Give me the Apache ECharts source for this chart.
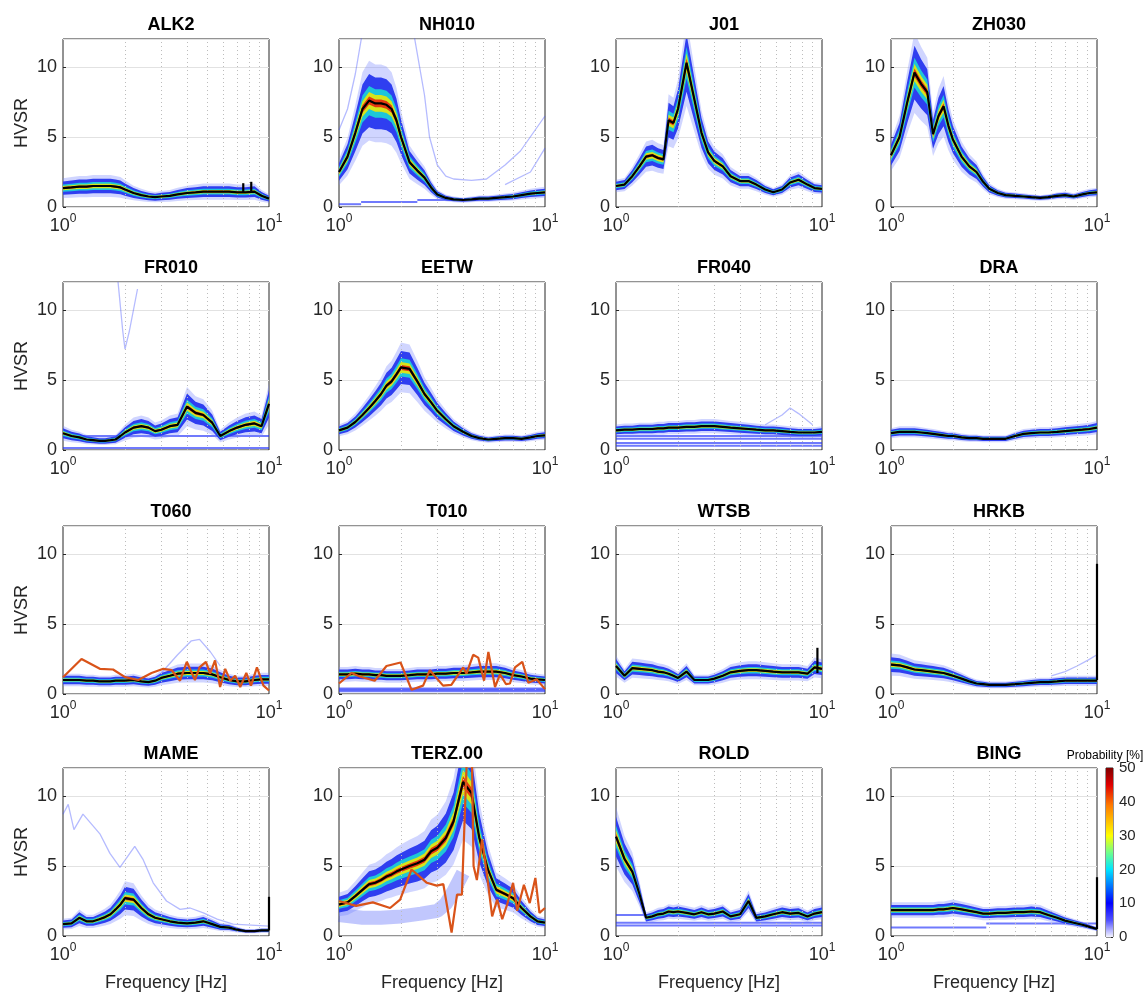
<!DOCTYPE html>
<html>
<head>
<meta charset="utf-8">
<title>HVSR probability</title>
<script src="https://cdn.jsdelivr.net/npm/echarts@6/dist/echarts.min.js"></script>
<style>
  html, body { margin: 0; padding: 0; background: #fff; }
  #chart { width: 1147px; height: 995px; }
</style>
</head>
<body>
<div id="chart"></div>
<script>
var freqs = [1, 1.1, 1.2, 1.3, 1.4, 1.5, 1.6, 1.7, 1.8, 1.9, 2, 2.2, 2.4, 2.6, 2.8, 3, 3.3, 3.6, 4, 4.4, 4.8, 5.3, 5.8, 6.4, 7, 7.7, 8.5, 9.2, 10];
var minorFreqs = [2, 3, 4, 5, 6, 7, 8, 9];
var probMin = 0, probMax = 50;

var stationNames = ['ALK2', 'NH010', 'J01', 'ZH030', 'FR010', 'EETW', 'FR040', 'DRA',
                    'T060', 'T010', 'WTSB', 'HRKB', 'MAME', 'TERZ.00', 'ROLD', 'BING'];

// median HVSR curves (black lines)
var alk2  = [1.35,1.4,1.45,1.45,1.5,1.5,1.5,1.5,1.45,1.4,1.25,1.0,0.85,0.75,0.7,0.75,0.8,0.9,1.0,1.05,1.1,1.1,1.1,1.1,1.05,1.05,1.1,0.8,0.6];
var nh010 = [2.5,3.6,5.3,7.0,7.6,7.4,7.4,7.3,7.0,6.2,5.0,3.2,2.6,2.1,1.4,0.9,0.65,0.55,0.5,0.55,0.6,0.6,0.65,0.7,0.75,0.85,0.95,1.0,1.05];
var j01   = [1.5,1.6,2.2,2.9,3.6,3.7,3.5,3.4,6.2,6.0,7.0,10.3,7.7,5.3,3.9,3.3,2.9,2.2,1.85,1.85,1.6,1.25,1.05,1.25,1.75,1.95,1.6,1.35,1.3];
var zh030 = [3.7,5.0,7.5,9.6,8.8,8.2,5.2,6.5,7.2,5.8,4.8,3.6,2.9,2.5,1.8,1.3,1.0,0.85,0.8,0.75,0.7,0.65,0.7,0.8,0.85,0.75,0.9,1.0,1.05];
var fr010 = [1.2,1.0,0.9,0.75,0.7,0.65,0.65,0.7,0.75,1.0,1.25,1.6,1.7,1.6,1.35,1.45,1.7,1.8,3.1,2.65,2.5,1.95,1.0,1.35,1.6,1.8,1.9,1.7,3.3];
var eetw  = [1.4,1.6,2.0,2.5,3.0,3.5,4.0,4.6,4.9,5.4,5.9,5.8,4.9,4.0,3.4,2.8,2.2,1.7,1.3,1.0,0.85,0.75,0.8,0.85,0.85,0.8,0.9,1.0,1.05];
var fr040 = [1.4,1.45,1.45,1.5,1.5,1.5,1.55,1.55,1.6,1.6,1.6,1.65,1.65,1.7,1.7,1.7,1.65,1.6,1.55,1.5,1.45,1.4,1.4,1.35,1.3,1.25,1.25,1.25,1.3];
var dra   = [1.2,1.3,1.3,1.3,1.25,1.2,1.15,1.1,1.05,1.0,1.0,0.9,0.85,0.85,0.8,0.8,0.8,0.8,1.0,1.15,1.2,1.25,1.25,1.3,1.35,1.4,1.45,1.5,1.6];
var t060  = [1.0,1.0,1.0,0.95,0.95,0.9,0.9,0.9,0.95,0.95,0.95,1.0,0.9,0.85,0.95,1.15,1.3,1.45,1.5,1.5,1.5,1.4,1.2,1.0,0.9,0.9,1.0,1.05,1.05];
var t010  = [1.4,1.4,1.45,1.4,1.4,1.35,1.35,1.3,1.3,1.3,1.3,1.35,1.4,1.4,1.4,1.45,1.45,1.5,1.5,1.55,1.6,1.6,1.6,1.5,1.35,1.25,1.1,1.05,1.0];
var wtsb  = [2.0,1.3,1.85,1.8,1.75,1.7,1.6,1.55,1.45,1.3,1.15,1.6,1.0,1.0,1.0,1.1,1.3,1.55,1.65,1.7,1.7,1.65,1.6,1.55,1.55,1.55,1.45,1.9,1.8];
var hrkb  = [2.1,2.05,1.9,1.75,1.7,1.65,1.6,1.55,1.5,1.4,1.3,1.1,0.9,0.75,0.7,0.65,0.65,0.65,0.7,0.75,0.8,0.85,0.85,0.9,0.95,0.95,0.95,0.95,0.95];
var mame  = [0.85,0.9,1.3,1.05,1.05,1.2,1.35,1.55,1.9,2.25,2.7,2.6,2.0,1.55,1.3,1.2,1.05,0.95,0.9,0.95,1.05,0.85,0.65,0.6,0.45,0.35,0.35,0.4,0.4];
var terz  = [2.25,2.4,2.85,3.3,3.7,3.8,4.0,4.25,4.4,4.6,4.75,5.0,5.2,5.45,6.05,6.3,7.0,8.2,11.0,10.2,7.0,4.7,3.3,3.0,2.7,2.0,1.4,1.05,0.95];
var rold  = [7.1,5.5,4.6,3.0,1.3,1.4,1.55,1.6,1.75,1.7,1.75,1.65,1.55,1.7,1.55,1.6,1.75,1.4,1.55,2.5,1.3,1.4,1.55,1.7,1.6,1.65,1.4,1.6,1.7];
var bing  = [1.85,1.85,1.85,1.85,1.85,1.85,1.85,1.9,1.9,1.95,2.0,1.9,1.8,1.7,1.6,1.6,1.65,1.65,1.7,1.7,1.75,1.7,1.5,1.3,1.1,0.95,0.8,0.65,0.5];

var medians = [alk2, nh010, j01, zh030, fr010, eetw, fr040, dra, t060, t010, wtsb, hrkb, mame, terz, rold, bing];
// relative half width of the probability cloud around the median
var spreads = [0.35, 0.25, 0.2, 0.2, 0.3, 0.2, 0.2, 0.2, 0.3, 0.25, 0.25, 0.25, 0.3, 0.25, 0.2, 0.2];

// orange reference curves
var t060Orange = [[1,1.2],[1.23,2.5],[1.51,1.8],[1.75,1.75],[2.0,1.2],[2.32,1.0],[2.69,1.5],[3.07,1.8],[3.37,1.7],[3.7,0.95],[3.99,2.3],[4.37,1.0],[4.6,1.9],[4.94,2.3],[5.18,1.45],[5.47,2.4],[5.79,0.5],[6.13,1.8],[6.48,0.95],[6.85,1.3],[7.25,0.5],[7.76,1.5],[8.18,0.6],[8.74,1.9],[9.4,0.6],[10,0.25]];
var t010Orange = [[1,0.75],[1.15,1.5],[1.26,1.25],[1.49,0.95],[1.7,2.0],[1.99,2.25],[2.25,0.3],[2.56,0.6],[2.76,1.7],[3.2,0.6],[3.51,0.65],[4.01,1.9],[4.16,1.45],[4.48,2.8],[4.74,2.6],[5.06,0.95],[5.31,3.0],[5.72,0.5],[6.05,1.4],[6.47,0.7],[6.76,0.75],[7.15,1.9],[7.76,2.3],[8.3,0.8],[9.1,1.05],[10,0.35]];
var terzOrange = [[1,2.5],[1.21,2.15],[1.46,2.4],[1.77,2.0],[1.98,2.6],[2.25,4.75],[2.67,3.8],[2.98,3.6],[3.21,3.7],[3.52,0.25],[3.74,2.95],[3.95,2.95],[4.17,12.5],[4.42,12.5],[4.5,5.0],[4.67,4.0],[4.95,6.9],[5.24,4.25],[5.54,1.4],[5.86,2.6],[6.2,1.2],[6.55,2.25],[7.0,3.8],[7.33,1.8],[7.9,3.65],[8.43,2.35],[8.98,4.15],[9.4,1.65],[10,2.0]];

// faint outlier windows
var nh010OutA = [[1,5.5],[1.1,7],[1.2,9.5],[1.3,12.5]];
var nh010OutB = [[2.3,12.5],[2.6,8.0],[2.75,5],[3.0,3],[3.3,2.2],[3.6,2.0],[4.4,1.9],[5.2,2.0],[6.4,3.0],[7.6,4.0],[10,6.5]];
var nh010OutC = [[6.4,1.6],[8.5,2.5],[10,4.2]];
var fr010Out  = [[1.85,12],[1.95,8.5],[2.0,7.2],[2.1,8.5],[2.3,11.5]];
var fr040Out  = [[5.3,1.8],[6.4,2.5],[7,3.0],[7.7,2.6],[9,1.8]];
var t060Out   = [[3,1.5],[3.6,2.8],[4.2,3.8],[4.6,3.9],[5.2,3.0],[5.8,2.0]];
var hrkbOut   = [[6,1.3],[7,1.6],[8,2.0],[9,2.4],[10,2.8]];
var mameOut   = [[1,8.7],[1.06,9.4],[1.13,7.6],[1.25,8.7],[1.51,7.3],[1.69,5.9],[1.89,4.9],[2.11,5.9],[2.23,6.4],[2.45,5.45],[2.74,3.8],[3.18,2.5],[3.7,1.9],[4.14,2.0],[4.8,1.65],[5.6,1.2],[6.7,0.85],[10,0.7]];
var terzLow   = [[1,1.5],[1.3,1.3],[1.6,1.3],[2,1.4],[2.5,1.6],[3,1.8],[3.3,2.3],[3.6,3.2],[4,4.5]];
var outliers = [[], [nh010OutA, nh010OutB, nh010OutC], [], [], [fr010Out], [], [fr040Out], [],
                [t060Out], [], [], [hrkbOut], [mameOut], [], [], []];
var clouds = [[], [], [], [], [], [], [], [], [], [], [], [], [], [terzLow], [], []];

// horizontal streaks [hvsr, fStart, fEnd]
var streaks = [
  [], [[0.2,1,1.28],[0.35,1.28,2.4],[0.5,2.4,3.5]], [], [],
  [[0.15,1,10],[1.0,1,10]], [], [[1.0,1,10],[0.8,1,10],[0.5,1,10],[0.3,1,10]], [],
  [], [[0.2,1,10],[0.3,1,10],[0.4,1,10]], [], [],
  [], [], [[1.5,1,1.9],[0.75,1,10],[0.95,1,10]], [[0.6,1,2.9],[0.9,2.9,10]]
];
// vertical spikes of the median [f, from, to]
var spikes = [
  [[7.5,1.0,1.7],[8.2,1.0,1.8]], [], [], [],
  [], [], [], [],
  [], [], [[9.5,1.5,3.3]], [[10,1.0,9.3]],
  [[10,0.4,2.8]], [], [], [[10,0.5,4.2]]
];

var colLeft = [63, 339, 616, 891], rowTop = [39, 282, 526, 768];
var plotW = 206, plotH = 168;
var bandLevels = [
  {k: 1.5, color: 'rgba(120,135,255,0.35)'},
  {k: 1.0, color: '#2f3ef0'},
  {k: 0.55, color: '#1ec6d8'},
  {k: 0.32, color: '#d6e51b'},
  {k: 0.15, color: '#e5380f'}
];

var chart = echarts.init(document.getElementById('chart'));
var grids = [], xAxes = [], yAxes = [], titles = [], series = [];
var tickColor = '#262626';

function bandRenderer(med, s) {
  return function (params, api) {
    var lv = bandLevels[api.value(2)];
    var pts = [];
    for (var j = 0; j < freqs.length; j++) pts.push(api.coord([freqs[j], med[j] * (1 + lv.k * s)]));
    for (var j2 = freqs.length - 1; j2 >= 0; j2--) pts.push(api.coord([freqs[j2], med[j2] * (1 - lv.k * s)]));
    return {type: 'polygon', shape: {points: pts}, style: {fill: lv.color}};
  };
}

stationNames.forEach(function (name, i) {
  var r = Math.floor(i / 4), c = i % 4;
  grids.push({left: colLeft[c], top: rowTop[r], width: plotW, height: plotH,
    show: true, borderColor: tickColor, borderWidth: 1, backgroundColor: '#fff'});
  xAxes.push({
    type: 'log', logBase: 10, min: 1, max: 10, gridIndex: i,
    name: r === 3 ? 'Frequency [Hz]' : '', nameLocation: 'middle', nameGap: 38,
    nameTextStyle: {fontSize: 18, color: tickColor},
    axisLine: {show: false}, axisTick: {show: false}, splitLine: {show: false},
    axisLabel: {
      margin: 6, color: tickColor,
      formatter: function (v) { return '{b|10}{s|' + Math.round(Math.log10(v)) + '}'; },
      rich: {b: {fontSize: 18, lineHeight: 22, verticalAlign: 'bottom'},
             s: {fontSize: 12, verticalAlign: 'top'}}
    }
  });
  yAxes.push({
    type: 'value', min: 0, max: 12, interval: 5, gridIndex: i,
    name: c === 0 ? 'HVSR' : '', nameLocation: 'middle', nameGap: 32, nameRotate: 90,
    nameTextStyle: {fontSize: 18, color: tickColor},
    axisLine: {show: false},
    axisTick: {show: true, inside: true, length: 3, lineStyle: {color: tickColor}},
    axisLabel: {fontSize: 18, color: tickColor, margin: 6, showMaxLabel: false},
    splitLine: {show: true, lineStyle: {color: '#e2e2e2', width: 1}}
  });
  titles.push({text: name, left: colLeft[c] + plotW / 2, top: rowTop[r] - 28, textAlign: 'center',
    textStyle: {fontSize: 18, fontWeight: 'bold', color: '#000'}});

  // dotted minor grid lines
  series.push({type: 'line', xAxisIndex: i, yAxisIndex: i, data: [[1, 0]], symbol: 'none',
    lineStyle: {opacity: 0}, silent: true, z: 1,
    markLine: {silent: true, symbol: 'none', label: {show: false}, animation: false,
      lineStyle: {color: '#bcbcbc', type: [1, 3], width: 1},
      data: minorFreqs.map(function (f) { return {xAxis: f}; })}});

  streaks[i].forEach(function (s) {
    series.push({type: 'line', xAxisIndex: i, yAxisIndex: i, data: [[s[1], s[0]], [s[2], s[0]]],
      symbol: 'none', silent: true, z: 2, lineStyle: {color: 'rgba(35,50,250,0.65)', width: 2}});
  });
  outliers[i].forEach(function (o) {
    series.push({type: 'line', xAxisIndex: i, yAxisIndex: i, data: o, symbol: 'none', silent: true, z: 2,
      lineStyle: {color: 'rgba(70,85,255,0.4)', width: 1.3}});
  });
  clouds[i].forEach(function (o) {
    series.push({type: 'line', xAxisIndex: i, yAxisIndex: i, data: o, symbol: 'none', silent: true, z: 2,
      lineStyle: {color: 'rgba(50,70,250,0.3)', width: 14}});
  });

  // probability cloud: nested bands around the median
  series.push({type: 'custom', coordinateSystem: 'cartesian2d', xAxisIndex: i, yAxisIndex: i,
    clip: true, silent: true, z: 3,
    data: bandLevels.map(function (lv, l) { return [1, 0, l]; }),
    renderItem: bandRenderer(medians[i], spreads[i])});

  series.push({type: 'line', xAxisIndex: i, yAxisIndex: i, symbol: 'none', silent: true, z: 5,
    lineStyle: {color: '#000', width: 2.2},
    data: freqs.map(function (f, j) { return [f, medians[i][j]]; })});
  spikes[i].forEach(function (sp) {
    series.push({type: 'line', xAxisIndex: i, yAxisIndex: i, symbol: 'none', silent: true, z: 5,
      lineStyle: {color: '#000', width: 2.2}, data: [[sp[0], sp[1]], [sp[0], sp[2]]]});
  });
});

// orange reference curves
[[8, t060Orange], [9, t010Orange], [13, terzOrange]].forEach(function (p) {
  series.push({type: 'line', xAxisIndex: p[0], yAxisIndex: p[0], data: p[1], symbol: 'none', silent: true, z: 6,
    lineStyle: {color: '#d95319', width: 2.2}});
});

// colour bar
var cb = grids.length;
grids.push({left: 1106, top: 768, width: 7, height: 169, show: true, borderColor: tickColor, borderWidth: 1});
xAxes.push({type: 'category', gridIndex: cb, data: ['p'], show: false, boundaryGap: true});
yAxes.push({type: 'value', gridIndex: cb, min: probMin, max: probMax, interval: 10, position: 'right',
  axisLine: {show: false}, splitLine: {show: false},
  axisTick: {show: true, inside: true, length: 2, lineStyle: {color: tickColor}},
  axisLabel: {fontSize: 15, color: tickColor, margin: 6}});
series.push({type: 'bar', xAxisIndex: cb, yAxisIndex: cb, data: [probMax], barWidth: '100%', silent: true,
  itemStyle: {color: new echarts.graphic.LinearGradient(0, 0, 0, 1, [
    {offset: 0, color: '#7f0000'}, {offset: 0.1, color: '#e00000'}, {offset: 0.22, color: '#ff7a00'},
    {offset: 0.4, color: '#ffff00'}, {offset: 0.5, color: '#70ff8a'}, {offset: 0.6, color: '#00e5ff'},
    {offset: 0.7, color: '#0075ff'}, {offset: 0.8, color: '#0000ff'}, {offset: 0.9, color: '#5050ff'},
    {offset: 1, color: '#f4f4ff'}])}});
titles.push({text: 'Probability [%]', left: 1100, top: 745, textAlign: 'center',
  textStyle: {fontSize: 12, fontWeight: 'normal', color: '#000'}});

chart.setOption({
  animation: false,
  textStyle: {fontFamily: 'Liberation Sans, Arial, sans-serif'},
  title: titles,
  grid: grids,
  xAxis: xAxes,
  yAxis: yAxes,
  series: series
});
</script>
</body>
</html>
